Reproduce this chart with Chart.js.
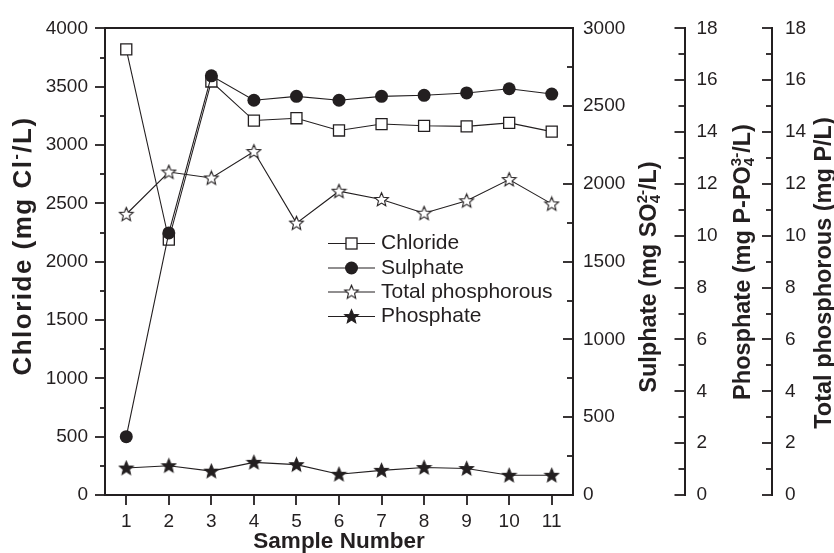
<!DOCTYPE html>
<html>
<head>
<meta charset="utf-8">
<script src="https://cdn.jsdelivr.net/npm/chart.js@4.4.1/dist/chart.umd.min.js"></script>
<style>
  html, body { margin: 0; padding: 0; background: #ffffff; }
  #c { display: block; }
</style>
</head>
<body>
<canvas id="c" width="834" height="553"></canvas>
<script>
// ---------------- data ----------------
const samples = ['1', '2', '3', '4', '5', '6', '7', '8', '9', '10', '11'];
const chloride = [3820, 2190, 3545, 3210, 3230, 3125, 3180, 3165, 3160, 3190, 3115];          // mg Cl-/L
const sulphate = [375, 1685, 2695, 2538, 2563, 2538, 2563, 2570, 2585, 2612, 2578];           // mg SO4 2-/L
const totalPhosphorous = [10.83, 12.46, 12.23, 13.25, 10.49, 11.72, 11.40, 10.87, 11.35, 12.17, 11.23]; // mg P/L
const phosphate = [1.04, 1.13, 0.92, 1.26, 1.17, 0.80, 0.95, 1.06, 1.02, 0.76, 0.76];        // mg P-PO4 3-/L

const chlorideTickLabels = [0, 500, 1000, 1500, 2000, 2500, 3000, 3500, 4000];
const sulphateTickLabels = [0, 500, 1000, 1500, 2000, 2500, 3000];
const phosphateTickLabels = [0, 2, 4, 6, 8, 10, 12, 14, 16, 18];
const totalPTickLabels = [0, 2, 4, 6, 8, 10, 12, 14, 16, 18];

const seriesNames = ['Chloride', 'Sulphate', 'Total phosphorous', 'Phosphate'];

// ---------------- style ----------------
const FONT = "'Liberation Sans', Arial, Helvetica, sans-serif";
const INK = '#231f20';
Chart.defaults.font.family = FONT;
Chart.defaults.color = INK;

function makeStar(fill) {
  const c = document.createElement('canvas');
  c.width = 17; c.height = 17;
  const g = c.getContext('2d');
  const R = 7.2, r = 3.2, cx = 8.5, cy = 8.9;
  g.beginPath();
  for (let i = 0; i < 10; i++) {
    const a = -Math.PI / 2 + i * Math.PI / 5;
    const rad = (i % 2) ? r : R;
    g.lineTo(cx + rad * Math.cos(a), cy + rad * Math.sin(a));
  }
  g.closePath();
  g.fillStyle = fill; g.fill();
  g.lineWidth = 1.1; g.strokeStyle = INK; g.lineJoin = 'miter'; g.stroke();
  return c;
}
const hollowStar = makeStar('#ffffff');
const filledStar = makeStar(INK);

function labelCb(list) {
  return function (v) { return list.indexOf(v) >= 0 ? String(v) : ''; };
}

function vAxis(pos, min, max, step, list, pad, width) {
  return {
    type: 'linear', position: pos, min: min, max: max,
    grid: { display: false, drawTicks: false },
    border: { display: true, width: 2, color: INK },
    ticks: { stepSize: step, autoSkip: false, padding: pad, color: INK,
             font: { size: 19, family: FONT }, callback: labelCb(list) },
    afterFit(s) { s.width = width; }
  };
}

// ---------------- rich rotated titles ----------------
function drawRotTitle(ctx, parts, cx, cy, size, spacing) {
  const big = 'bold ' + size + 'px ' + FONT;
  const small = 'bold ' + Math.round(size * 0.62) + 'px ' + FONT;
  ctx.save();
  if (spacing && 'letterSpacing' in ctx) ctx.letterSpacing = spacing + 'px';
  let w = 0;
  const widths = parts.map(p => {
    let pw;
    if (typeof p === 'string') { ctx.font = big; pw = ctx.measureText(p).width; }
    else { ctx.font = small; pw = Math.max(ctx.measureText(p.sup || '').width, ctx.measureText(p.sub || '').width); }
    w += pw; return pw;
  });
  ctx.translate(cx, cy);
  ctx.rotate(-Math.PI / 2);
  ctx.fillStyle = INK;
  ctx.textAlign = 'left';
  ctx.textBaseline = 'alphabetic';
  const base = 0.358 * size;
  let x = -w / 2;
  parts.forEach((p, i) => {
    if (typeof p === 'string') { ctx.font = big; ctx.fillText(p, x, base); }
    else {
      ctx.font = small;
      if (p.sup) ctx.fillText(p.sup, x, base - 0.40 * size);
      if (p.sub) ctx.fillText(p.sub, x, base + 0.16 * size);
    }
    x += widths[i];
  });
  ctx.restore();
}

const decor = {
  id: 'decor',
  afterDraw(chart) {
    const ctx = chart.ctx;
    const ca = chart.chartArea;
    const sc = chart.scales;
    ctx.save();
    ctx.strokeStyle = INK;
    ctx.lineCap = 'butt';
    // top frame
    ctx.lineWidth = 2;
    ctx.beginPath();
    ctx.moveTo(ca.left - 1, Math.round(ca.top));
    ctx.lineTo(ca.right + 1, Math.round(ca.top));
    ctx.stroke();

    function vt(scale, x, dir, step, major, majLen, minLen) {
      for (let v = scale.min; v <= scale.max + 1e-9; v += step) {
        const y = Math.round(scale.getPixelForValue(v));
        const isMaj = Math.abs(v / major - Math.round(v / major)) < 1e-6;
        const len = isMaj ? majLen : minLen;
        ctx.beginPath();
        ctx.moveTo(x, y);
        ctx.lineTo(x + dir * len, y);
        ctx.stroke();
      }
    }
    ctx.lineWidth = 1.8;
    vt(sc.y, sc.y.right, -1, 250, 500, 10, 5);
    vt(sc.y1, sc.y1.left, -1, 250, 500, 10, 6);
    vt(sc.y2, sc.y2.left, -1, 1, 2, 10, 6);
    vt(sc.y3, sc.y3.left, -1, 1, 2, 10, 6);
    // x ticks
    sc.x.ticks.forEach((t, i) => {
      const x = Math.round(sc.x.getPixelForValue(i));
      ctx.beginPath();
      ctx.moveTo(x, sc.x.top);
      ctx.lineTo(x, sc.x.top + 10);
      ctx.stroke();
    });

    // axis titles
    drawRotTitle(ctx, ['Chloride (mg Cl', { sup: '-' }, '/L)'], 22, 246, 26, 1.5);
    drawRotTitle(ctx, ['Sulphate (mg SO', { sup: '2-', sub: '4' }, '/L)'], sc.y1.left + 75, 277, 23.5);
    drawRotTitle(ctx, ['Phosphate (mg P-PO', { sup: '3-', sub: '4' }, '/L)'], sc.y2.left + 57, 262, 23.5);
    drawRotTitle(ctx, ['Total phosphorous (mg P/L)'], sc.y3.left + 51, 273, 23.5);

    // legend
    const lx0 = 328, lx1 = 375, mx = 351.5, tx = 381;
    const rows = [243.5, 268, 292, 316.5];
    ctx.font = '21px ' + FONT;
    ctx.textBaseline = 'middle';
    ctx.textAlign = 'left';
    chart.data.datasets.forEach((ds, i) => {
      const y = rows[i];
      ctx.lineWidth = 1.1;
      ctx.strokeStyle = INK;
      ctx.beginPath(); ctx.moveTo(lx0, y); ctx.lineTo(lx1, y); ctx.stroke();
      if (ds.pointStyle === 'rect') {
        const s = ds.pointRadius * Math.SQRT1_2;
        ctx.fillStyle = '#fff';
        ctx.fillRect(mx - s, y - s, 2 * s, 2 * s);
        ctx.lineWidth = ds.pointBorderWidth;
        ctx.strokeRect(mx - s, y - s, 2 * s, 2 * s);
      } else if (ds.pointStyle === 'circle') {
        ctx.fillStyle = INK;
        ctx.beginPath(); ctx.arc(mx, y, ds.pointRadius, 0, Math.PI * 2); ctx.fill();
      } else {
        const img = ds.pointStyle;
        ctx.drawImage(img, mx - img.width / 2, y - img.height / 2);
      }
      ctx.fillStyle = INK;
      ctx.fillText(ds.label, tx, y);
    });
    ctx.restore();
  }
};

new Chart(document.getElementById('c'), {
  type: 'line',
  data: {
    labels: samples,
    datasets: [
      { label: seriesNames[0], data: chloride, yAxisID: 'y', order: 2,
        borderColor: INK, borderWidth: 1.1, tension: 0,
        pointStyle: 'rect', pointRadius: 7.8, pointBackgroundColor: '#ffffff',
        pointBorderColor: INK, pointBorderWidth: 1.3 },
      { label: seriesNames[1], data: sulphate, yAxisID: 'y1', order: 1,
        borderColor: INK, borderWidth: 1.1, tension: 0,
        pointStyle: 'circle', pointRadius: 6.5, pointBackgroundColor: INK,
        pointBorderColor: INK, pointBorderWidth: 0 },
      { label: seriesNames[2], data: totalPhosphorous, yAxisID: 'y3', order: 3,
        borderColor: INK, borderWidth: 1.1, tension: 0,
        pointStyle: hollowStar, pointRadius: 7 },
      { label: seriesNames[3], data: phosphate, yAxisID: 'y2', order: 4,
        borderColor: INK, borderWidth: 1.1, tension: 0,
        pointStyle: filledStar, pointRadius: 7 }
    ]
  },
  options: {
    responsive: false,
    animation: false,
    devicePixelRatio: 1,
    layout: { padding: { top: 23, left: 0, right: 0, bottom: 0 } },
    plugins: { legend: { display: false }, tooltip: { enabled: false } },
    scales: {
      x: {
        type: 'category', position: 'bottom', offset: true,
        grid: { display: false, drawTicks: false },
        border: { display: true, width: 2, color: INK },
        ticks: { padding: 15, autoSkip: false, maxRotation: 0, color: INK, font: { size: 19, family: FONT } },
        title: { display: true, text: 'Sample Number', color: INK,
                 font: { size: 22.5, weight: 'bold', family: FONT, lineHeight: 1 }, padding: { top: 0, bottom: 0 } },
        afterFit(s) { s.height = 58; }
      },
      y: vAxis('left', 0, 4000, 250, chlorideTickLabels, 17, 105),
      y1: vAxis('right', 0, 3000, 250, sulphateTickLabels, 10, 111.5),
      y2: vAxis('right', 0, 18, 1, phosphateTickLabels, 12, 87.5),
      y3: vAxis('right', 0, 18, 1, totalPTickLabels, 13, 62)
    }
  },
  plugins: [decor]
});
</script>
</body>
</html>
